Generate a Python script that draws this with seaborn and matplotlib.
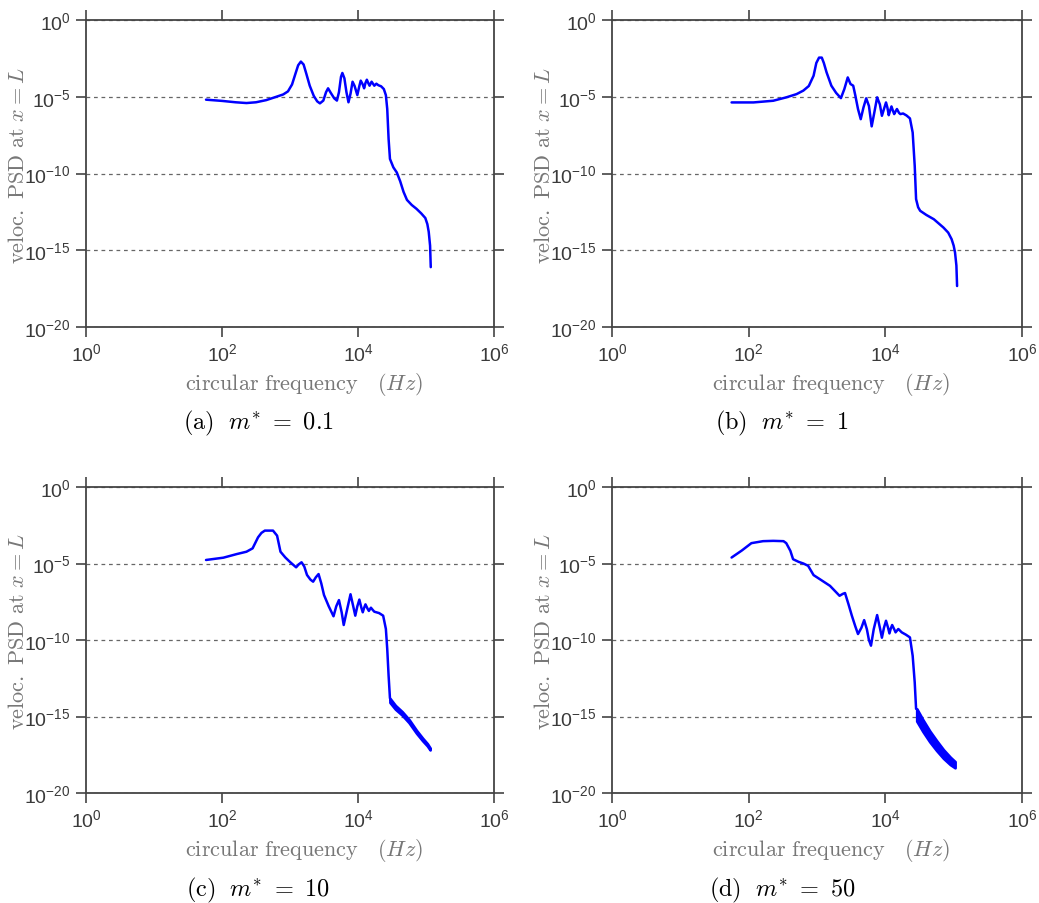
import numpy as np
import pandas as pd
import matplotlib
matplotlib.use("Agg")
import matplotlib.pyplot as plt
import seaborn as sns
from matplotlib.ticker import NullLocator

# ---------------- data (log10 values) ----------------
a_logf = [1.765, 2.0, 2.2, 2.36, 2.5, 2.65, 2.8, 2.9, 2.97, 3.03, 3.08, 3.12, 3.16, 3.2, 3.24,
          3.29, 3.35, 3.40, 3.44, 3.49, 3.53, 3.56, 3.6, 3.65, 3.69, 3.72, 3.75, 3.77, 3.8, 3.83,
          3.86, 3.89, 3.92, 3.95, 3.99, 4.02, 4.04, 4.07, 4.09, 4.11, 4.13, 4.15, 4.17, 4.2, 4.22,
          4.24, 4.27, 4.3, 4.34, 4.38, 4.41, 4.43, 4.45, 4.47, 4.52, 4.57, 4.62, 4.67, 4.72, 4.79,
          4.86, 4.93, 4.99, 5.02, 5.04, 5.06, 5.07]
a_logpsd = [-5.19, -5.27, -5.36, -5.41, -5.36, -5.22, -5.0, -4.85, -4.65, -4.2, -3.5, -2.95, -2.71,
            -2.9, -3.5, -4.28, -4.95, -5.3, -5.43, -5.25, -4.7, -4.45, -4.75, -5.1, -5.25, -4.7,
            -3.7, -3.45, -3.8, -4.7, -5.36, -4.8, -4.02, -4.3, -4.89, -4.3, -3.95, -4.2, -4.45,
            -4.1, -3.89, -4.1, -4.28, -4.02, -4.15, -4.28, -4.15, -4.25, -4.32, -4.5, -4.9, -5.8,
            -7.75, -9.05, -9.6, -9.93, -10.5, -11.2, -11.72, -12.05, -12.3, -12.6, -12.9, -13.3,
            -13.8, -14.7, -16.1]

b_logf = [1.75, 2.07, 2.36, 2.55, 2.70, 2.80, 2.88, 2.95, 2.99, 3.03, 3.07, 3.10, 3.14, 3.21, 3.28,
          3.35, 3.40, 3.45, 3.49, 3.53, 3.56, 3.60, 3.64, 3.68, 3.72, 3.76, 3.80, 3.84, 3.88, 3.92,
          3.95, 3.98, 4.01, 4.03, 4.05, 4.07, 4.09, 4.11, 4.13, 4.15, 4.17, 4.2, 4.22, 4.26, 4.31,
          4.36, 4.40, 4.43, 4.45, 4.48, 4.51, 4.6, 4.71, 4.85, 4.92, 4.97, 5.0, 5.02, 5.04, 5.05]
b_logpsd = [-5.37, -5.37, -5.26, -5.04, -4.83, -4.6, -4.3, -3.63, -2.8, -2.45, -2.45, -2.8, -3.41,
            -4.28, -4.75, -5.09, -4.5, -3.74, -4.17, -4.28, -4.9, -5.8, -6.46, -5.7, -5.1, -5.6,
            -6.93, -6.0, -5.04, -5.5, -6.24, -5.8, -5.37, -5.7, -6.2, -5.9, -5.63, -5.9, -6.13,
            -5.95, -5.8, -6.05, -6.13, -6.09, -6.22, -6.41, -7.33, -9.5, -11.67, -12.2, -12.43,
            -12.7, -12.98, -13.52, -13.85, -14.28, -14.7, -15.15, -16.0, -17.33]

c_logf = [1.765, 2.02, 2.22, 2.36, 2.45, 2.53, 2.58, 2.63, 2.75, 2.81, 2.86, 2.93, 3.0, 3.09, 3.13,
          3.17, 3.21, 3.25, 3.30, 3.34, 3.38, 3.42, 3.46, 3.5, 3.57, 3.64, 3.68, 3.72, 3.76, 3.79,
          3.84, 3.89, 3.93, 3.96, 3.99, 4.02, 4.05, 4.07, 4.09, 4.11, 4.14, 4.16, 4.19, 4.22, 4.24,
          4.31, 4.37, 4.41, 4.43, 4.45, 4.47]
c_logpsd = [-4.77, -4.62, -4.38, -4.23, -4.01, -3.29, -3.0, -2.85, -2.85, -3.18, -4.23, -4.6, -4.9,
            -5.25, -5.05, -4.92, -5.2, -5.75, -6.05, -6.19, -5.9, -5.69, -6.3, -7.06, -7.8, -8.45,
            -7.8, -7.39, -8.2, -9.02, -8.0, -7.01, -7.8, -8.41, -7.8, -7.36, -7.9, -8.19, -7.9,
            -7.67, -7.95, -8.1, -7.89, -8.05, -8.15, -8.24, -8.41, -9.28, -10.59, -12.33, -13.81]
c_tail_logf = [4.47, 4.55, 4.65, 4.75, 4.86, 4.95, 5.02, 5.06]
c_tail_upper = [-13.82, -14.28, -14.69, -15.2, -15.91, -16.42, -16.78, -17.06]
c_tail_lower = [-14.08, -14.52, -14.91, -15.4, -16.09, -16.58, -16.92, -17.18]

d_logf = [1.75, 1.9, 2.04, 2.21, 2.36, 2.51, 2.55, 2.61, 2.65, 2.73, 2.80, 2.87, 2.95, 3.04, 3.19,
          3.33, 3.38, 3.41, 3.46, 3.51, 3.56, 3.60, 3.65, 3.69, 3.73, 3.76, 3.79, 3.83, 3.88, 3.92,
          3.95, 3.98, 4.01, 4.04, 4.06, 4.08, 4.10, 4.13, 4.15, 4.19, 4.24, 4.30, 4.36, 4.40, 4.43,
          4.45]
d_logpsd = [-4.61, -4.15, -3.67, -3.54, -3.52, -3.54, -3.67, -4.17, -4.72, -4.89, -5.0, -5.15,
            -5.76, -6.02, -6.46, -7.11, -6.98, -6.93, -7.65, -8.41, -9.1, -9.61, -9.2, -8.70, -9.3,
            -10.0, -10.37, -9.3, -8.37, -9.2, -9.85, -9.2, -8.74, -9.2, -9.57, -9.25, -9.02, -9.3,
            -9.50, -9.28, -9.50, -9.65, -9.83, -11.03, -12.77, -14.5]
d_tail_logf = [4.46, 4.55, 4.65, 4.75, 4.85, 4.95, 5.02]
d_tail_upper = [-14.5, -15.22, -15.95, -16.58, -17.17, -17.66, -17.95]
d_tail_lower = [-15.3, -15.98, -16.65, -17.22, -17.73, -18.14, -18.35]

captions = [r"$\mathrm{(a)}\ \ m^{*}\ =\ 0.1$", r"$\mathrm{(b)}\ \ m^{*}\ =\ 1$",
            r"$\mathrm{(c)}\ \ m^{*}\ =\ 10$", r"$\mathrm{(d)}\ \ m^{*}\ =\ 50$"]
xticks = [1e0, 1e2, 1e4, 1e6]
yticks = [1e-20, 1e-15, 1e-10, 1e-5, 1e0]
xlabel = r"$\mathrm{circular\ frequency}\ \ \ (H z)$"
ylabel = r"$\mathrm{veloc.\ PSD\ at\ }x = L$"

# ---------------- style ----------------
sns.set_style("ticks")
plt.rcParams['font.family'] = ['Liberation Sans', 'DejaVu Sans']
plt.rcParams['mathtext.fontset'] = 'cm'

W, H = 1039, 904
fig = plt.figure(figsize=(W / 100, H / 100), dpi=100)

boxes = [(86, 21, 494, 328), (612, 21, 1022, 328), (86, 488, 494, 794), (612, 488, 1022, 794)]
cap_pos = [(258, 423), (782, 423), (258, 890), (782, 890)]
curves = [(a_logf, a_logpsd, None), (b_logf, b_logpsd, None),
          (c_logf, c_logpsd, (c_tail_logf, c_tail_upper, c_tail_lower)),
          (d_logf, d_logpsd, (d_tail_logf, d_tail_upper, d_tail_lower))]

blue = "#0000ff"
for (l, t, r, b), (lf, lp, tail), cap, (cx, cy) in zip(boxes, curves, captions, cap_pos):
    ax = fig.add_axes([l / W, 1 - b / H, (r - l) / W, (b - t) / H])
    df = pd.DataFrame({"f": 10 ** np.array(lf), "psd": 10 ** np.array(lp)})
    sns.lineplot(data=df, x="f", y="psd", ax=ax, color=blue, lw=1.8,
                 estimator=None, sort=False, solid_joinstyle="round",
                 solid_capstyle="round")
    if tail is not None:
        tf, tu, tl = tail
        tf = 10 ** np.array(tf)
        tu = 10 ** np.array(tu)
        tl = 10 ** np.array(tl)
        ax.fill_between(tf, tl, tu, color=blue, lw=2.0, edgecolor=blue,
                        joinstyle="round", capstyle="round")
    ax.set_xscale("log")
    ax.set_yscale("log")
    ax.set_xlim(1, 1e6)
    ax.set_ylim(1e-20, 1)
    ax.set_xticks(xticks)
    ax.set_yticks(yticks)
    ax.xaxis.set_minor_locator(NullLocator())
    ax.yaxis.set_minor_locator(NullLocator())
    ax.tick_params(which="major", direction="out", length=7, width=1.2, color="#444444",
                   top=True, right=True, labeltop=False, labelright=False,
                   labelsize=14, labelcolor="#3a3a3a", pad=4)
    ax.grid(False)
    ax.yaxis.grid(True, linestyle=(0, (3, 3)), color="#666666", lw=0.9)
    for sp in ax.spines.values():
        sp.set_color("#444444")
        sp.set_linewidth(1.3)
        sp.set_visible(True)
    ax.set_xlabel(xlabel, fontsize=16, color="#777777", math_fontfamily="cm")
    ax.xaxis.set_label_coords(0.534, -0.14)
    ax.set_ylabel(ylabel, fontsize=16, color="#777777", math_fontfamily="cm")
    ax.yaxis.set_label_coords(-0.14, 0.53)
    fig.text(cx / W, 1 - cy / H, cap, ha="center", va="center", fontsize=17.5,
             color="black", math_fontfamily="cm")

fig.savefig("out.png", dpi=100)
